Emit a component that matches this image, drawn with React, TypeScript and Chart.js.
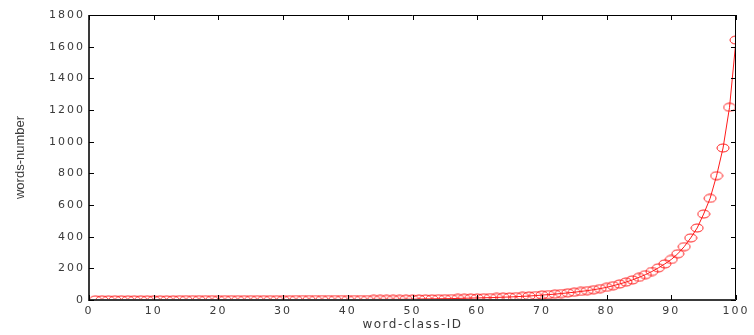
import React, { useEffect, useRef } from "react";
import { Chart, registerables } from "chart.js";

Chart.register(...registerables);

const classIds = [
  1, 2, 3, 4, 5, 6, 7, 8, 9, 10,
  11, 12, 13, 14, 15, 16, 17, 18, 19, 20,
  21, 22, 23, 24, 25, 26, 27, 28, 29, 30,
  31, 32, 33, 34, 35, 36, 37, 38, 39, 40,
  41, 42, 43, 44, 45, 46, 47, 48, 49, 50,
  51, 52, 53, 54, 55, 56, 57, 58, 59, 60,
  61, 62, 63, 64, 65, 66, 67, 68, 69, 70,
  71, 72, 73, 74, 75, 76, 77, 78, 79, 80,
  81, 82, 83, 84, 85, 86, 87, 88, 89, 90,
  91, 92, 93, 94, 95, 96, 97, 98, 99, 100,
];

const wordCounts = [
  1, 1, 1, 1, 1, 1, 1, 1, 1, 1,
  1, 1, 1, 2, 2, 2, 2, 2, 2, 2,
  2, 2, 2, 2, 2, 2, 2, 2, 2, 2,
  2, 3, 3, 3, 3, 3, 3, 3, 3, 3,
  3, 3, 3, 4, 4, 4, 4, 4, 5, 5,
  6, 7, 7, 8, 8, 9, 10, 11, 12, 13,
  14, 15, 16, 18, 19, 21, 23, 25, 28, 31,
  34, 37, 41, 45, 49, 54, 59, 65, 72, 80,
  90, 101, 113, 127, 143, 160, 180, 203, 228, 256,
  292, 337, 392, 455, 543, 642, 785, 960, 1217, 1642,
];

const xTicks = [0, 10, 20, 30, 40, 50, 60, 70, 80, 90, 100];
const yTicks = [0, 200, 400, 600, 800, 1000, 1200, 1400, 1600, 1800];

const xTitle = "word-class-ID";
const yTitle = "words-number";

function makeMarker(): HTMLCanvasElement {
  const c = document.createElement("canvas");
  c.width = 14;
  c.height = 10;
  const ctx = c.getContext("2d")!;
  ctx.strokeStyle = "#ff1a1a";
  ctx.lineWidth = 1;
  ctx.beginPath();
  ctx.ellipse(7, 5, 6, 4, 0, 0, Math.PI * 2);
  ctx.stroke();
  return c;
}

function withSpacing(s: any, method: string, spacing: string) {
  const key = "_sp_" + method;
  if (s[key]) return;
  const orig = s[method].bind(s);
  s[method] = (...args: any[]) => {
    const ctx = s.ctx as any;
    const prev = ctx.letterSpacing;
    ctx.letterSpacing = spacing;
    orig(...args);
    ctx.letterSpacing = prev || "0px";
  };
  s[key] = true;
}

const boxPlugin = {
  id: "matlabBox",
  afterDraw(chart: any) {
    const { ctx, chartArea } = chart;
    const { left, right, top, bottom } = chartArea;
    const xs = chart.scales.x;
    const ys = chart.scales.y;
    ctx.save();
    ctx.strokeStyle = "#000";
    ctx.lineWidth = 1;
    ctx.beginPath();
    ctx.moveTo(left, top + 0.5);
    ctx.lineTo(right, top + 0.5);
    ctx.moveTo(right - 0.5, top);
    ctx.lineTo(right - 0.5, bottom);
    ctx.stroke();
    ctx.strokeStyle = "#3a3a3a";
    ctx.lineWidth = 2;
    ctx.beginPath();
    ctx.moveTo(left, top);
    ctx.lineTo(left, bottom);
    ctx.lineTo(right, bottom);
    ctx.stroke();
    ctx.strokeStyle = "#000";
    ctx.lineWidth = 1;
    ctx.beginPath();
    for (const v of xTicks) {
      const px = Math.round(xs.getPixelForValue(v)) + 0.5;
      ctx.moveTo(px, bottom);
      ctx.lineTo(px, bottom - 5);
      ctx.moveTo(px, top);
      ctx.lineTo(px, top + 5);
    }
    for (const v of yTicks) {
      const py = Math.round(ys.getPixelForValue(v)) + 0.5;
      ctx.moveTo(left, py);
      ctx.lineTo(left + 5, py);
      ctx.moveTo(right, py);
      ctx.lineTo(right - 5, py);
    }
    ctx.stroke();
    ctx.restore();
  },
};

export default function App() {
  const ref = useRef<HTMLCanvasElement | null>(null);
  useEffect(() => {
    if (!ref.current) return;
    const marker = makeMarker();
    const family = "'DejaVu Sans', 'Liberation Sans', sans-serif";
    const tickFont = { family, size: 11 };
    const chart = new Chart(ref.current, {
      type: "line",
      data: {
        datasets: [
          {
            data: classIds.map((id, i) => ({ x: id, y: wordCounts[i] })),
            borderColor: "#ff1a1a",
            borderWidth: 1,
            pointStyle: marker as any,
            pointRadius: 5,
            fill: false,
            tension: 0,
          },
        ],
      },
      plugins: [boxPlugin],
      options: {
        responsive: false,
        animation: false,
        layout: { padding: { top: 15, right: 18, left: 0, bottom: 0 } },
        plugins: { legend: { display: false }, tooltip: { enabled: false } },
        scales: {
          x: {
            type: "linear",
            min: 0,
            max: 100,
            afterBuildTicks: (s: any) => {
              s.ticks = xTicks.map((v) => ({ value: v }));
            },
            afterFit: (s: any) => {
              s.height = 35;
              withSpacing(s, "drawLabels", "2px");
              withSpacing(s, "drawTitle", "1.5px");
            },
            grid: { display: false, drawTicks: false },
            border: { display: false },
            ticks: {
              color: "#3a3a3a",
              font: tickFont,
              padding: 5,
              maxRotation: 0,
              callback: (v: any) => String(v),
            },
            title: {
              display: true,
              text: xTitle,
              color: "#3a3a3a",
              font: { family, size: 12 },
              padding: { top: 0, bottom: 3 },
            },
          },
          y: {
            type: "linear",
            min: 0,
            max: 1800,
            afterBuildTicks: (s: any) => {
              s.ticks = yTicks.map((v) => ({ value: v }));
            },
            afterFit: (s: any) => {
              s.width = 89;
              withSpacing(s, "drawLabels", "2px");
            },
            grid: { display: false, drawTicks: false },
            border: { display: false },
            ticks: {
              color: "#3a3a3a",
              font: tickFont,
              padding: 4,
              callback: (v: any) => String(v),
            },
            title: {
              display: true,
              text: yTitle,
              color: "#3a3a3a",
              font: { family: "'Liberation Sans Narrow', 'Liberation Sans', sans-serif", size: 13 },
              padding: { top: 13, bottom: 0 },
            },
          },
        },
      },
    });
    return () => chart.destroy();
  }, []);
  return (
    <div style={{ position: "fixed", left: 0, top: 0, width: 754, height: 335, background: "#fff" }}>
      <canvas ref={ref} width={754} height={335} style={{ display: "block" }} />
    </div>
  );
}
